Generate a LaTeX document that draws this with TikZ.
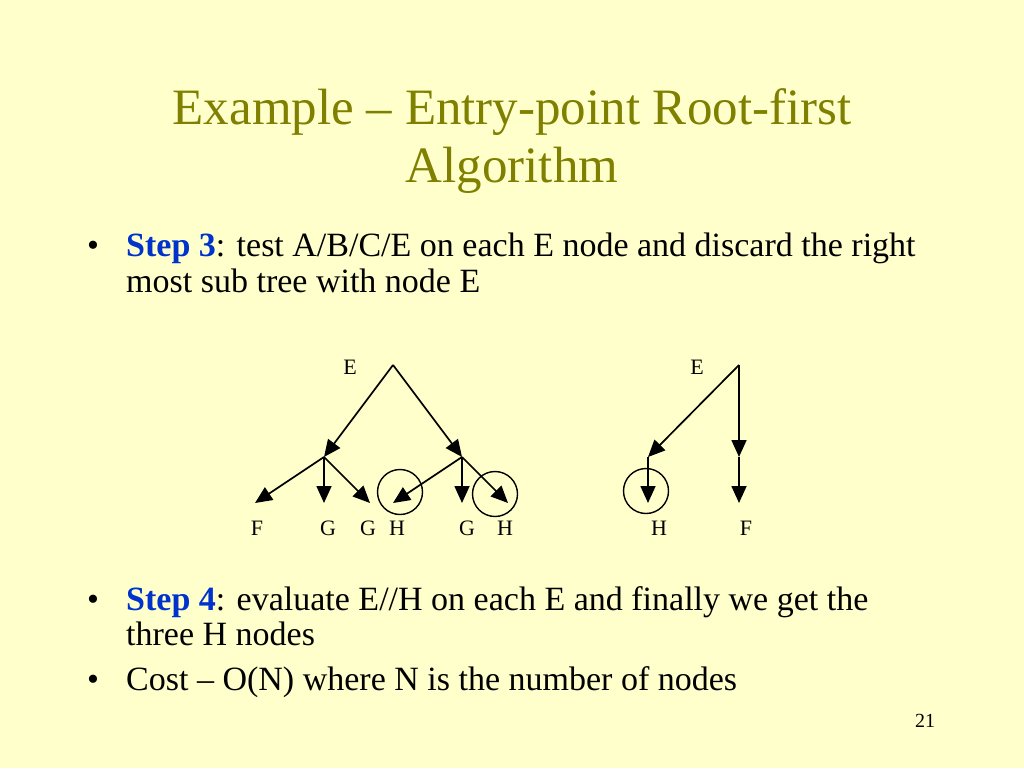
\documentclass[tikz,border=0pt]{standalone}
\usepackage{fontspec}
\setmainfont{Liberation Serif}
\usepackage{xcolor}
\usetikzlibrary{arrows.meta,positioning}
\definecolor{slidebg}{HTML}{FFFFCC}
\definecolor{titleolive}{HTML}{808000}
\definecolor{stepblue}{HTML}{0033CC}
\tikzset{
    edge/.style={line width=1.7pt,-{Triangle[length=17pt,width=15pt]}},
    lbl/.style={font=\fontsize{22}{26}\selectfont,inner sep=0pt},
    ring/.style={draw,line width=1.4pt,circle,minimum size=45pt,inner sep=0pt},
    body/.style={anchor=base west,inner sep=0pt,font=\fontsize{34}{40}\selectfont},
    headline/.style={titleolive,anchor=base,inner sep=0pt,font=\fontsize{51}{60}\selectfont},
}
\begin{document}
\begin{tikzpicture}[x=1pt,y=-1pt]
    % Background
    \fill[slidebg] (0,0) rectangle (1024,768);
    \useasboundingbox (0,0) rectangle (1024,768);
    % Title
    \node[headline] (title1) at (512,124) {Example -- Entry-point Root-first};
    \node[headline] (title2) at (512,182) {Algorithm};
    % Bullets
    \node[body,anchor=base] (b1) at (93,256) {\textbullet};
    \node[body] (t1) at (126,256) {\textbf{\color{stepblue}Step 3}: test A/B/C/E on each E node and discard the right};
    \node[body] (t2) at (126,292) {most sub tree with node E};
    \node[body,anchor=base] (b2) at (93,610) {\textbullet};
    \node[body] (t3) at (126,610) {\textbf{\color{stepblue}Step 4}: evaluate E//H on each E and finally we get the};
    \node[body] (t4) at (126,645) {three H nodes};
    \node[body,anchor=base] (b3) at (93,690) {\textbullet};
    \node[body] (t5) at (126,690) {Cost -- O(N) where N is the number of nodes};
    \node[anchor=base,inner sep=0pt,font=\fontsize{20}{24}\selectfont] (page) at (925,727) {21};
    % Left tree
    \coordinate (rootA) at (393,365);
    \coordinate (midA) at (324,457);
    \coordinate (midB) at (462,457);
    \coordinate (leafF) at (255,503);
    \coordinate (leafG) at (324,503);
    \coordinate (leafGG) at (370,503);
    \coordinate (leafH) at (393,503);
    \coordinate (leafGGG) at (462,503);
    \coordinate (leafHH) at (508,503);
    \draw[edge] (rootA) -- (midA);
    \draw[edge] (rootA) -- (midB);
    \draw[edge] (midA) -- (leafF);
    \draw[edge] (midA) -- (leafG);
    \draw[edge] (midA) -- (leafGG);
    \draw[edge] (midB) -- (leafH);
    \draw[edge] (midB) -- (leafGGG);
    \draw[edge] (midB) -- (leafHH);
    \node[ring] (ringH) at (400,492) {};
    \node[ring] (ringHH) at (495,494) {};
    \node[lbl] (lblE) at (350,367) {E};
    \node[lbl] (lblF) at (257,528) {F};
    \node[lbl] (lblG) at (328,528) {G};
    \node[lbl] (lblGG) at (368,528) {G};
    \node[lbl] (lblH) at (397,528) {H};
    \node[lbl] (lblGGG) at (467,528) {G};
    \node[lbl] (lblHH) at (505,528) {H};
    % Right tree
    \coordinate (rootB) at (739,365);
    \coordinate (midC) at (648,457);
    \coordinate (midD) at (739,457);
    \coordinate (leafHHH) at (648,503);
    \coordinate (leafFF) at (739,503);
    \draw[edge] (rootB) -- (midC);
    \draw[edge] (rootB) -- (midD);
    \draw[edge] (midC) -- (leafHHH);
    \draw[edge] (midD) -- (leafFF);
    \node[ring] (ringHHH) at (646,491) {};
    \node[lbl] (lblEE) at (697,367) {E};
    \node[lbl] (lblHHH) at (659,528) {H};
    \node[lbl] (lblFF) at (746,528) {F};
\end{tikzpicture}
\end{document}
